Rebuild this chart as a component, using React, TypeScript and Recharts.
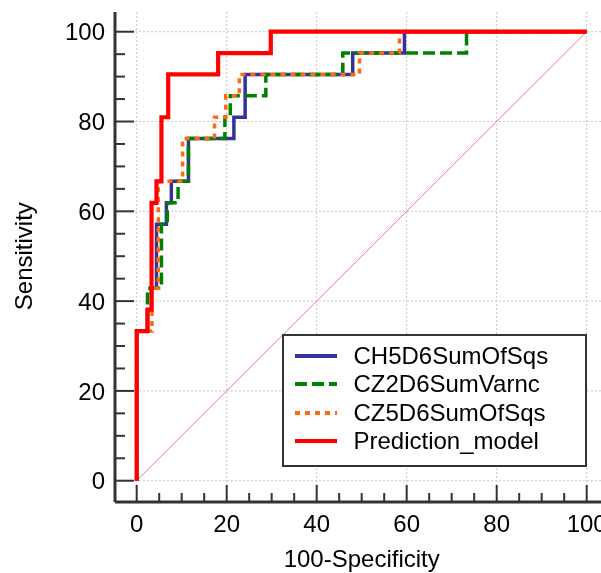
import { LineChart, Line, XAxis, YAxis, ReferenceLine, Legend } from 'recharts'

const FONT = '"Liberation Sans", Arial, sans-serif'
const AXIS = '#333'
const FS = 24

// axis domains reach a bit past 0 so the axis lines sit away from the curves
const X_MIN = -4.82
const X_MAX = 106.96
const Y_MIN = -4.74
const Y_MAX = 104.39

const ticks = [0, 5, 10, 15, 20, 25, 30, 35, 40, 45, 50, 55, 60, 65, 70, 75, 80, 85, 90, 95, 100]
const gridValues = [0, 20, 40, 60, 80, 100]

// ROC operating points (100-specificity, sensitivity)
const ch5X = [0, 0, 2.4, 3.3, 4.4, 6.6, 7.7, 11.5, 21.6, 24.1, 48.0, 59.5, 100]
const ch5Y = [0, 33.33, 38.1, 42.86, 57.14, 61.9, 66.67, 76.19, 80.95, 90.48, 95.24, 100, 100]

const cz2X = [0, 0, 2.4, 5.5, 6.8, 9.2, 11.5, 19.6, 20.8, 28.7, 45.8, 73.3, 100]
const cz2Y = [0, 33.33, 42.86, 57.14, 61.9, 66.67, 76.19, 80.95, 85.71, 90.48, 95.24, 100, 100]

const cz5X = [0, 0, 3.4, 4.8, 10.2, 17.3, 19.8, 22.8, 49.5, 58.4, 100]
const cz5Y = [0, 33.33, 42.86, 66.67, 76.19, 80.95, 85.71, 90.48, 95.24, 100, 100]

const predX = [0, 0, 2.4, 3.3, 4.4, 5.5, 7.0, 18.1, 29.8, 100]
const predY = [0, 33.33, 38.1, 61.9, 66.67, 80.95, 90.48, 95.24, 100, 100]

const diagX = [0, 100]
const diagY = [0, 100]

const toPoints = (xs: number[], ys: number[]) => xs.map((x, i) => ({ x, y: ys[i] }))

const series = [
  { name: 'CH5D6SumOfSqs', data: toPoints(ch5X, ch5Y), color: '#333399', dash: undefined, width: 3.5 },
  { name: 'CZ2D6SumVarnc', data: toPoints(cz2X, cz2Y), color: '#008000', dash: '12 5', width: 3.5 },
  { name: 'CZ5D6SumOfSqs', data: toPoints(cz5X, cz5Y), color: '#ff6a10', dash: '5 5', width: 3.5 },
  { name: 'Prediction_model', data: toPoints(predX, predY), color: '#ff0000', dash: undefined, width: 4.2 },
]

const XTick = (props: any) => {
  const { x, y, payload } = props
  const major = payload.value % 20 === 0
  return (
    <g>
      <line x1={x} x2={x} y1={y} y2={y - (major ? 17 : 9)} stroke={AXIS} strokeWidth={2} />
      {major && (
        <text x={x} y={y + 30} textAnchor="middle" fontFamily={FONT} fontSize={FS} fill="#000">
          {payload.value}
        </text>
      )}
    </g>
  )
}

const YTick = (props: any) => {
  const { x, y, payload } = props
  const major = payload.value % 20 === 0
  return (
    <g>
      <line x1={x} x2={x + (major ? 19 : 10)} y1={y} y2={y} stroke={AXIS} strokeWidth={2} />
      {major && (
        <text x={x - 10} y={y} dy="0.36em" textAnchor="end" fontFamily={FONT} fontSize={FS} fill="#000">
          {payload.value}
        </text>
      )}
    </g>
  )
}

const XTitle = (props: any) => {
  const vb = props.viewBox
  const cx = vb.x + ((50 - X_MIN) / (X_MAX - X_MIN)) * vb.width
  return (
    <text x={cx} y={vb.y + 64.7} textAnchor="middle" fontFamily={FONT} fontSize={FS} fill="#000">
      100-Specificity
    </text>
  )
}

const YTitle = (props: any) => {
  const vb = props.viewBox
  const cy = vb.y + ((Y_MAX - 50) / (Y_MAX - Y_MIN)) * vb.height
  return (
    <text x={24} y={cy} transform={`rotate(-90 24 ${cy})`} textAnchor="middle" fontFamily={FONT} fontSize={FS} fill="#000">
      Sensitivity
    </text>
  )
}

const LegendBox = () => (
  <div
    style={{
      width: 305,
      height: 133,
      boxSizing: 'border-box',
      border: `2.5px solid ${AXIS}`,
      background: '#fff',
      paddingTop: 6,
    }}
  >
    {series.map((s) => (
      <div key={s.name} style={{ display: 'flex', alignItems: 'center', height: 28.3 }}>
        <svg width={42} height={8} style={{ marginLeft: 10.8, marginRight: 16.7, flexShrink: 0 }}>
          <line x1={0} x2={42} y1={4} y2={4} stroke={s.color} strokeWidth={4} strokeDasharray={s.dash} />
        </svg>
        <span style={{ fontFamily: FONT, fontSize: FS, color: '#000', lineHeight: '28px', whiteSpace: 'nowrap' }}>
          {s.name}
        </span>
      </div>
    ))}
  </div>
)

const App = () => {
  return (
    <div style={{ position: 'fixed', left: 8, top: 8, width: 593, height: 565, overflow: 'hidden' }}>
      <LineChart width={610} height={565} margin={{ top: 4, right: 0, bottom: 0, left: 0 }}>
        <XAxis
          dataKey="x"
          type="number"
          domain={[X_MIN, X_MAX]}
          allowDataOverflow
          ticks={ticks}
          interval={0}
          tickSize={0}
          tickMargin={0}
          tickLine={false}
          tick={(p: any) => <XTick {...p} />}
          axisLine={{ stroke: AXIS, strokeWidth: 3 }}
          height={71}
          label={{ content: (p: any) => <XTitle {...p} /> }}
        />
        <YAxis
          type="number"
          domain={[Y_MIN, Y_MAX]}
          allowDataOverflow
          ticks={ticks}
          interval={0}
          tickSize={0}
          tickMargin={0}
          tickLine={false}
          tick={(p: any) => <YTick {...p} />}
          axisLine={{ stroke: AXIS, strokeWidth: 3 }}
          width={107}
          label={{ content: (p: any) => <YTitle {...p} /> }}
        />
        {gridValues.map((v) => (
          <ReferenceLine key={'gx' + v} x={v} stroke="#c8c8c8" strokeDasharray="2 2" strokeWidth={1} />
        ))}
        {gridValues.map((v) => (
          <ReferenceLine key={'gy' + v} y={v} stroke="#c8c8c8" strokeDasharray="2 2" strokeWidth={1} />
        ))}
        <Line
          data={toPoints(diagX, diagY)}
          dataKey="y"
          type="linear"
          stroke="#ea7f7f"
          strokeWidth={1}
          dot={false}
          activeDot={false}
          legendType="none"
          isAnimationActive={false}
        />
        {series.map((s) => (
          <Line
            key={s.name}
            name={s.name}
            data={s.data}
            dataKey="y"
            type="stepAfter"
            stroke={s.color}
            strokeWidth={s.width}
            strokeDasharray={s.dash}
            dot={false}
            activeDot={false}
            isAnimationActive={false}
          />
        ))}
        <Legend
          layout="horizontal"
          verticalAlign="middle"
          align="center"
          content={() => <LegendBox />}
          wrapperStyle={{ position: 'absolute', left: 274, top: 326, width: 305, height: 133 }}
        />
      </LineChart>
    </div>
  )
}

export default App
